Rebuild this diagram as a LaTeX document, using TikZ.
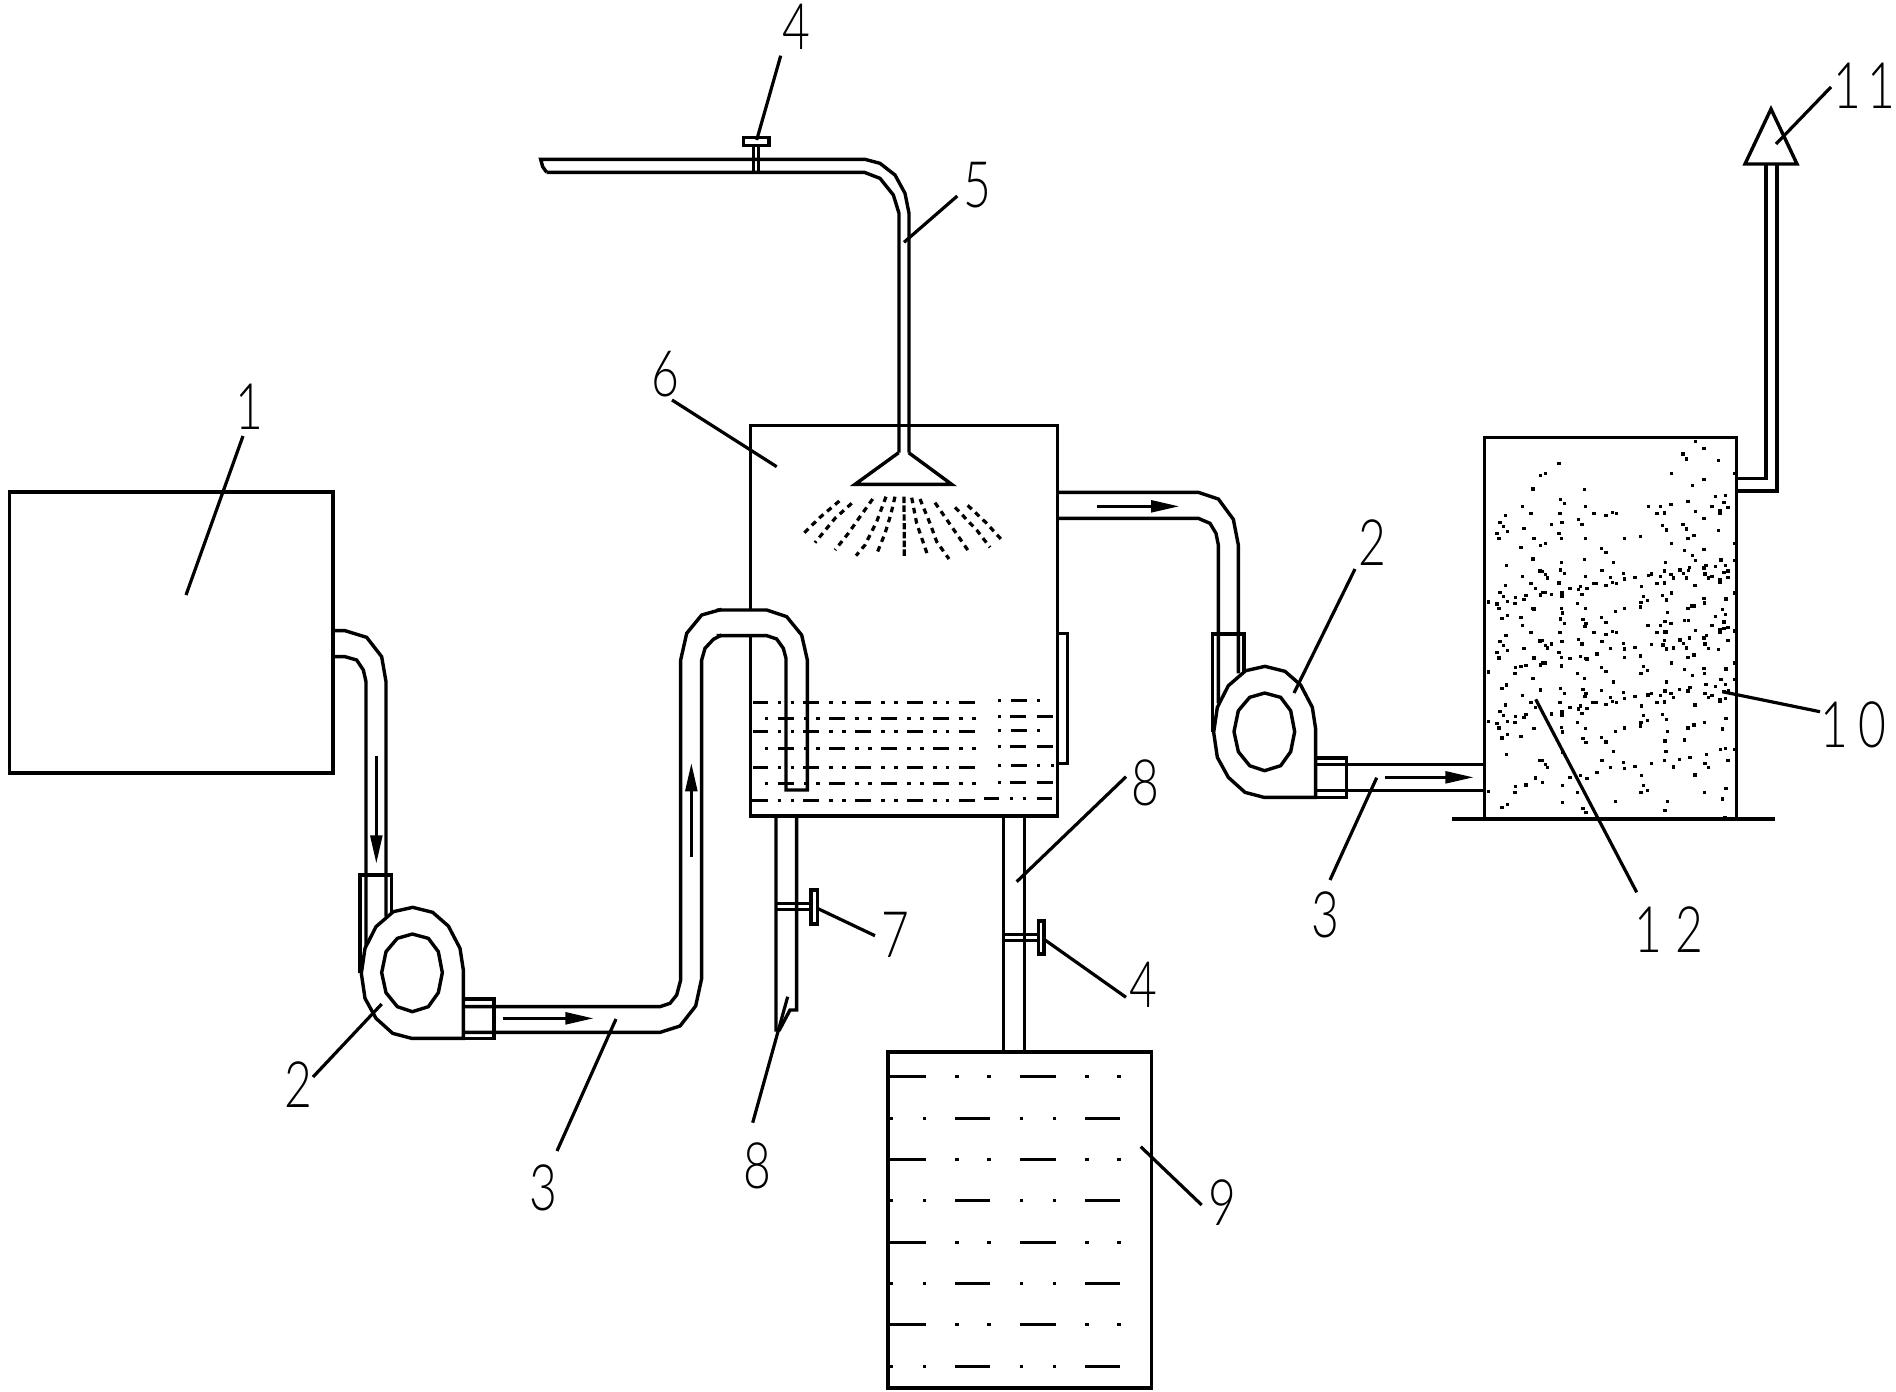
\documentclass[tikz,border=0pt]{standalone}
\usepackage{fontspec}
\usetikzlibrary{arrows.meta}
\newfontfamily\labelfont[FakeStretch=0.75]{Lato Light}
\newcommand\wdash[2]{\foreach \a/\b in {#2} \draw (\a,#1)--(\b,#1);}
\newcommand\wdot[2]{\foreach \a in {#2} \fill ({\a-5},{#1-5}) rectangle +(10,10);}
\newcommand\leader[3]{\coordinate (#1a) at (#2); \coordinate (#1b) at (#3); \draw[line width=1.6pt] (#1a)--(#1b);}
\newcommand\pumpbody{%
  \draw (180,1120)--(180,825)--(275,825)--(275,945);
  \draw[fill=white] (338,922)--(398,937)--(445,978)--(480,1045)--(490,1110)--(490,1315)--(335,1315)--(278,1300)--(228,1255)--(195,1195)--(184,1120)--(195,1045)--(228,980)--(280,935)--cycle;
  \draw (337,1002)--(385,1015)--(415,1055)--(427,1118)--(415,1178)--(385,1220)--(337,1235)--(292,1220)--(258,1178)--(245,1118)--(258,1055)--(292,1015)--cycle;
  \draw (490,1197) rectangle (582,1315);
}
\tikzset{
  zm/.style 2 args={shift={(#1,#2)},x=0.16667pt,y=-0.16667pt},
  flow/.style={line width=1.2pt,-{Triangle[length=14pt,width=6pt]}},
  spray/.style={dash pattern=on 2.8pt off 2.4pt,line width=1.6pt},
  lab/.style={inner sep=0pt,font=\labelfont\fontsize{32pt}{32pt}\selectfont}
}
\begin{document}
\begin{tikzpicture}[x=0.5pt,y=-0.5pt,line width=1.7pt]
\fill[white] (0,0) rectangle (1896,1392);
\useasboundingbox (0,0) rectangle (1896,1392);

% box 1
\draw (9.5,492) rectangle (333,773);

% left pipes, pump 1
\begin{scope}[zm={300}{600}]
  \draw (100,92)--(135,92)--(200,112)--(245,170)--(258,245)--(258,950);
  \draw (100,170)--(135,170)--(170,180)--(190,210)--(198,245)--(198,1050);
  \pumpbody
  \draw (490,1220)--(1080,1220)--(1110,1210)--(1130,1185)--(1142,1140)--(1142,180)--(1160,100)--(1205,45)--(1265,28);
  \draw (490,1297)--(1080,1297)--(1140,1278)--(1187,1218)--(1205,1135)--(1205,180)--(1215,145)--(1240,118)--(1265,105);
  \draw[flow] (229,468)--(229,790);
  \draw[flow] (610,1255)--(880,1255);
  \draw[flow] (1174,770)--(1174,490);
\end{scope}

% spray tank
\begin{scope}[zm={720}{400}]
  \draw (92,630)--(92,76)--(1013,76)--(1013,1248)--(92,1248)--(92,707);
  \draw (1013,700)--(1043,700)--(1043,1090)--(1013,1090);
  % inlet U pipe
  \draw (-10,630)--(140,630)--(200,650)--(245,705)--(262,780)--(262,1170)--(198,1170)--(198,775)--(190,745)--(170,717)--(140,707)--(-10,707);
  % nozzle
  \draw (536,158)--(405,253)--(695,253)--(566,158);
  % water
  \foreach \y in {907,994,1102}{\wdash{\y}{100/143,250/297,405/452,562/608,718/765}\wdot{\y}{178,217,333,372,489,528,645,682}}
  \wdash{1201}{92/143,250/297,405/452,562/608,718/765}\wdot{1201}{178,217,333,372,489,528,645,682}
  \foreach \y in {956,1045,1151}{\wdash{\y}{175/222,328/375,484/531,640/687}\wdot{\y}{139,256,294,411,450,567,606,723,762}}
  \foreach \y in {902,992}{\wdash{\y}{873/920}\wdot{\y}{838,955}}
  \foreach \y in {950,1040,1148}{\wdash{\y}{871/917,950/999}\wdot{\y}{838}}
  \wdash{1097}{873/920}\wdot{1097}{838,955,997}
  \wdash{1195}{793/838,950/996}\wdot{1195}{875,913}
  % spray
  \draw[spray,dash pattern=on 3.2pt off 1.2pt] (552,290)--(553,468);
  \draw[spray] (525,290)--(512,345)--(495,400)--(468,467);
  \draw[spray] (498,290)--(470,365)--(455,395)--(435,435)--(408,467);
  \draw[spray] (458,297)--(420,350)--(385,400)--(345,450);
  \draw[spray] (395,310)--(345,355)--(285,428);
  \draw[spray] (358,303)--(300,352)--(245,406);
  \draw[spray] (575,293)--(590,370)--(625,472);
  \draw[spray] (600,297)--(630,370)--(650,425)--(687,477);
  \draw[spray] (645,308)--(695,380)--(750,460);
  \draw[spray] (705,322)--(770,390)--(810,442);
  \draw[spray] (743,316)--(798,368)--(850,425);
  \draw[flow] (1132,319)--(1377,319);
\end{scope}

% top water pipe
\begin{scope}[zm={530}{0}]
  \draw (50,517)--(38,500)--(32,478)--(1005,478)--(1050,490)--(1095,525)--(1125,580)--(1137,640)--(1137,1358);
  \draw (50,517)--(1003,517)--(1050,535)--(1090,585)--(1107,640)--(1107,1358);
  \draw (670,517)--(670,437);
  \draw (686,517)--(686,437);
  \draw (640,413) rectangle (717,437);
\end{scope}

% drains and tank 9
\begin{scope}[zm={740}{800}]
  \draw (108,47)--(108,690)--(118,690)--(150,630)--(170,630)--(170,47);
  \draw (108,310)--(215,310);
  \draw (108,328)--(215,328);
  \draw (213,270) rectangle (232,372);
  \draw (790,47)--(790,757);
  \draw (853,47)--(853,757);
  \draw (790,403)--(895,403);
  \draw (790,421)--(895,421);
  \draw (895,363) rectangle (912,462);
\end{scope}
\draw (888,1052) rectangle (1151.7,1388);
\begin{scope}[zm={880}{1130}]
  \foreach \y in {-160,88,337,584}{\wdash{\y}{25/138,420/527}\wdot{\y}{231,327,621,717}}
  \foreach \y in {-35,212,460,709}{\wdash{\y}{225/330,615/720}\wdot{\y}{35,133,424,523}}
\end{scope}

% outlet pipe, pump 2
\begin{scope}[zm={1180}{480}]
  \draw (-370,37)--(55,37)--(115,57)--(160,118)--(175,195)--(175,580);
  \draw (-370,115)--(55,115)--(90,130)--(108,160)--(115,195)--(115,670);
  \draw (407,853)--(913,853);
  \draw (407,931)--(913,931);
  \draw[flow] (615,892)--(880,892);
\end{scope}
\begin{scope}[zm={1152.33}{359}]
  \pumpbody
\end{scope}

% box 10 with packing
\begin{scope}[zm={1470}{420}]
  \draw (44,52) rectangle (800,1197);
  \draw (800,175)--(888,175)--(888,-768);
  \draw (800,213)--(921,213)--(921,-768);
  \foreach \a/\b in {676/64,702/85,639/102,649/117,745/121,267/130,226/161,211/167,604/161,795/160,702/178,668/197,189/207,343/208,737/230,766/226,271/238,283/251,654/244,603/254,762/248,157/260,346/259,535/259,571/259,726/259,774/263,676/274,183/280,270/280,372/280,427/277,439/280,408/286,561/280,583/279,750/272,750/280,106/287,702/295,325/298,90/307,276/308,336/313,244/313,100/319,578/316,639/313,162/326,589/330,649/327,745/331,112/335,81/340,267/340,672/347,87/356,192/356,274/355,346/356,463/355,511/349,654/355,226/371,211/377,604/371,795/370,153/382,395/385,702/388,643/391,408/397,668/407,189/417,343/418,753/420,793/422,676/422,110/436,274/428,431/427,587/427,271/450,766/436,736/440,708/437,702/444,659/443,630/450,640/460,655/452,603/464,583/453,210/453,216/454,226/464,232/474,283/461,157/470,346/469,461/461,463/477,495/472,535/467,545/462,571/469,610/474,649/474,705/462,715/474,726/469,762/458,774/453,774/472,750/480,750/488,396/452,421/473,427/487,439/490,183/490,267/489,372/490,380/490,408/496,561/490,583/489,106/497,675/496,514/499,332/500,325/508,300/505,351/506,197/505,90/517,100/529,219/518,226/518,244/523,211/525,276/518,276/528,336/524,168/526,578/526,604/519,795/519,520/529,136/533,112/545,55/546,81/552,135/550,162/538,532/542,513/547,511/561,589/540,768/537,702/535,703/549,323/550,87/566,188/566,192/567,274/565,346/566,463/565,436/575,654/565,672/558,666/558,757/568,592/577,277/579,113/586,96/595,153/592,766/583,736/590,271/597,339/598,395/593,408/607,283/610,348/611,345/620,157/617,534/616,571/616,585/604,603/611,643/602,655/602,726/616,762/606,774/622,762/626,750/630,750/636,795/633,183/638,270/638,372/638,427/635,439/638,408/643,561/638,583/636,589/636,676/632,110/646,106/646,709/647,702/654,659/654,630/660,640/671,583/662,579/675,545/673,461/671,210/663,216/662,226/676,245/672,232/684,276/665,325/658,336/672,396/665,90/664,100/677,112/692,81/698,705/672,715/685,774/662,495/682,463/687,421/685,162/685,589/687,610/684,649/684,745/689,267/698,87/714,381/702,274/713,300/715,332/709,346/716,351/717,192/714,463/713,512/708,654/712,672/705,226/729,219/729,211/735,604/729,795/729,168/736,153/739,136/743,135/760,55/756,520/740,532/752,513/760,395/742,408/754,274/738,323/760,643/749,702/746,703/760,768/747,667/766,343/776,189/775,753/779,793/779,766/793,589/786,431/786,736/800,708/794,110/795,96/805,271/805,339/808,211/810,283/820,395/812,348/821,345/829,157/827,461/817,545/820,534/825,585/813,603/820,629/808,660/803,654/813,463/835,421/832,495/829,571/826,705/820,726/826,775/813,762/815,715/833,610/833,750/838,750/845,766/835,427/845,439/848,369/848,380/848,408/853,270/847,183/848,561/848,583/846,106/855,514/858,675/855,300/862,332/858,325/867,351/866,197/863,90/875,276/875,276/885,336/881,245/882,100/887,168/884,162/892,578/884,589/898,136/889,520/887,768/895,112/905,55/904,81/910,135/908,532/901,513/908,511/918,323/907,703/908,87/924,192/925,274/922,346/925,463/924,436/934,654/924,672/915,757/927,592/934,277/936,113/944,96/954,153/949,339/955,395/952,408/966,348/968,585/963,643/960,277/997,431/994,588/995,110/1004,709/1004,752/988,766/985,793/989,210/1022,216/1022,226/1034,232/1042,396/1021,461/1027,463/1045,421/1042,495/1039,545/1031,583/1021,610/1041,629/1018,660/1012,705/1030,715/1042,774/1021,381/1058,514/1066,675/1065,300/1072,332/1067,351/1075,196/1074,217/1087,277/1096,136/1100,168/1095,135/1117,55/1114,323/1117,520/1097,532/1111,513/1117,703/1117,768/1105,757/1137,436/1144,592/1144,277/1147,113/1153,96/1163,339/1165,348/1178,585/1172,765/1194}
    \fill ({\a-5},{\b-5}) rectangle +(10,10);
\end{scope}
\draw (1452,819)--(1775,819);

% vent cap
\draw (1771,109)--(1745,164)--(1797,164)--cycle;

% labels
\node[lab] (n1) at (249,407) {1};
\node[lab] (n2a) at (298,1085) {2};
\node[lab] (n3a) at (543,1188) {3};
\node[lab] (n4a) at (796,27) {4};
\node[lab] (n5) at (977.7,185) {5};
\node[lab] (n6) at (665,374) {6};
\node[lab] (n7) at (895,935) {7};
\node[lab] (n8a) at (757,1166) {8};
\node[lab] (n8b) at (1145,783) {8};
\node[lab] (n4b) at (1143,985) {4};
\node[lab] (n9) at (1222,1203) {9};
\node[lab] (n2b) at (1372.7,543) {2};
\node[lab] (n3b) at (1325,915) {3};
\node[lab] (n10) at (1853,725) {1\kern5pt0};
\node[lab] (n11) at (1864,86) {1\kern3pt1};
\node[lab] (n12) at (1669,930) {1\kern6.5pt2};

% leaders
\leader{a1}{243,436}{186,595}
\leader{a2}{381.7,1004}{313,1077}
\leader{a3}{616,1019}{557,1151}
\leader{a4}{756.7,140}{780.7,55.7}
\leader{a5}{904,242.3}{957.3,196}
\leader{a6}{672,400}{776.7,466.7}
\leader{a7}{817.3,908.3}{875,935.7}
\leader{a8}{787.7,996.7}{752.7,1122.7}
\leader{a9}{1016.7,881.7}{1126,776.7}
\leader{a10}{1044,939.3}{1126,997.3}
\leader{a11}{1140.7,1146.7}{1201.7,1205}
\leader{a12}{1355,569}{1294,693}
\leader{a13}{1376.7,777.7}{1330,880}
\leader{a14}{1722.3,691.7}{1820,711.7}
\leader{a15}{1776,144}{1831,87}
\leader{a16}{1535.7,699.3}{1636.7,892.3}
\end{tikzpicture}
\end{document}
